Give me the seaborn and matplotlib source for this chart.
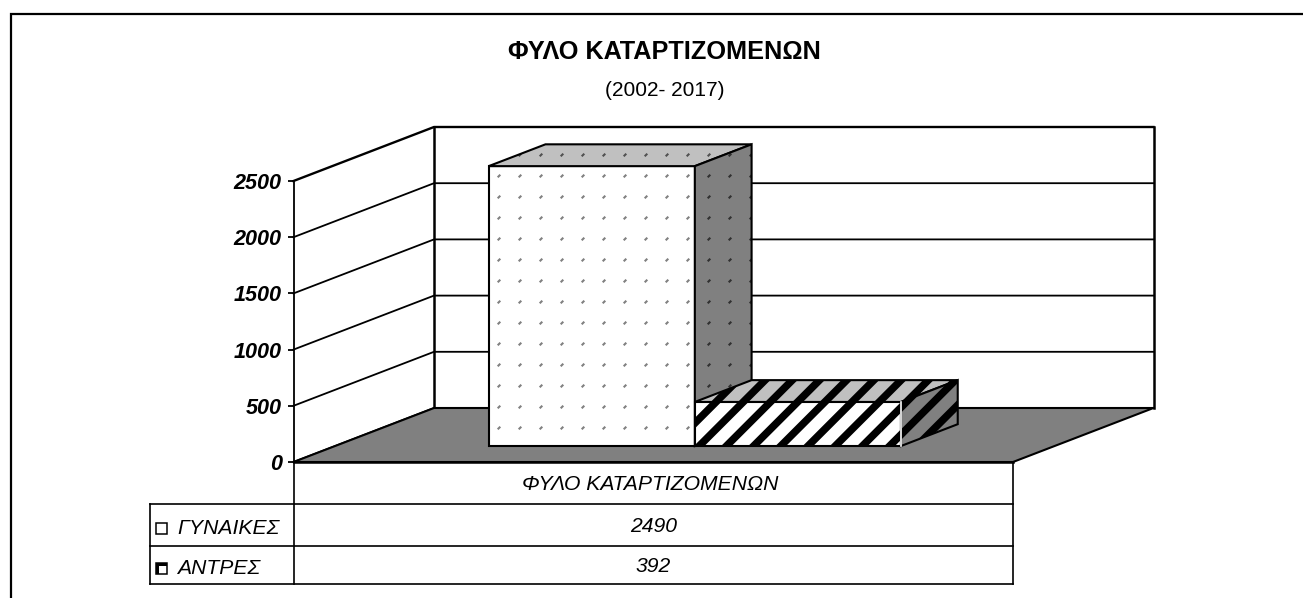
import numpy as np
import pandas as pd
import seaborn as sns
import matplotlib
matplotlib.use("Agg")
import matplotlib.pyplot as plt
from matplotlib.collections import LineCollection
from matplotlib.lines import Line2D
from matplotlib.patches import Polygon, Rectangle
from matplotlib.transforms import Affine2D, IdentityTransform

title = "ΦΥΛΟ ΚΑΤΑΡΤΙΖΟΜΕΝΩΝ"
subtitle = "(2002- 2017)"
category = ["ΦΥΛΟ ΚΑΤΑΡΤΙΖΟΜΕΝΩΝ"]
series_names = ["ΓΥΝΑΙΚΕΣ", "ΑΝΤΡΕΣ"]
series_values = [2490, 392]
y_ticks = [0, 500, 1000, 1500, 2000, 2500]

W, H = 1303, 598
sns.set_style("white")
plt.rcParams["font.family"] = ["Liberation Sans", "DejaVu Sans"]
fig = plt.figure(figsize=(W / 100, H / 100), dpi=100)

# plot plane in pixels
L, R, Y0, Y1 = 293.5, 1013.0, 462.0, 181.0
ax = fig.add_axes([L / W, 1 - Y0 / H, (R - L) / W, (Y0 - Y1) / H])
ax.patch.set_alpha(0)

df = pd.DataFrame({"cat": category * 2, "series": series_names, "value": series_values})
sns.barplot(data=df, x="cat", y="value", hue="series", hue_order=series_names,
            palette=["white", "white"], width=0.573, gap=0, legend=False, ax=ax,
            edgecolor="black", linewidth=1.1, saturation=1)
ax.set_xlim(-0.5, 0.5)
ax.set_ylim(0, 2500)
ax.set_xlabel("")
ax.set_ylabel("")
ax.set_xticks([])
ax.set_yticks(y_ticks)
ax.set_yticklabels([str(t) for t in y_ticks], fontsize=15.6, fontweight="bold", fontstyle="italic")
ax.tick_params(axis="y", left=True, length=4.5, width=1.3, pad=4, color="black", labelcolor="black")
sns.despine(ax=ax, top=True, right=True, bottom=True, left=False)
ax.spines["left"].set_linewidth(1.3)
ax.spines["left"].set_color("black")
ax.spines["left"].set_zorder(2)

# depth vector of the full floor, in display pixels
DX, DY = 140.5, 54.0
D_FRONT, D_BACK = 0.296, 0.70
px = IdentityTransform()


def proj(x, v, d=0.0):
    p = ax.transData.transform((x, v))
    return (p[0] + d * DX, p[1] + d * DY)


def line(pts, lw=1.3, z=1.0, color="black"):
    xs, ys = zip(*pts)
    ax.add_line(Line2D(xs, ys, transform=px, color=color, lw=lw, zorder=z, clip_on=False,
                       solid_capstyle="projecting"))


# floor
xa, xb = ax.get_xlim()
floor = [proj(xa, 0), proj(xb, 0), proj(xb, 0, 1), proj(xa, 0, 1)]
ax.add_patch(Polygon(floor, closed=True, transform=px, facecolor="#808080", edgecolor="black",
                     lw=1.5, zorder=1.2, clip_on=False))
# walls
for t in y_ticks:
    lw = 1.7 if t == y_ticks[-1] else 1.3
    line([proj(xa, t), proj(xa, t, 1), proj(xb, t, 1)], lw=lw, z=1.0)
line([proj(xa, 0, 1), proj(xa, y_ticks[-1], 1)], lw=1.8, z=1.1)
line([proj(xb, 0, 1), proj(xb, y_ticks[-1], 1)], lw=1.8, z=1.1)


def dots(color):
    xs = np.arange(499 - 21 * 2, 980, 21.0)
    ys = H - np.arange(155 - 21, 460, 21.0)
    segs = [[(x - 1.3, y - 1.3), (x + 1.3, y + 1.3)] for x in xs for y in ys]
    return LineCollection(segs, colors=color, linewidths=1.5, transform=px)


def stripes():
    segs = [[(x - 80, H - 403 - 80), (x + 80, H - 403 + 80)] for x in 715 + 27.2 * np.arange(-3, 12)]
    return LineCollection(segs, colors="black", linewidths=5.4, transform=px, capstyle="butt")


def add_face(verts, color, pattern, z):
    poly = Polygon(verts, closed=True, transform=px, facecolor=color, edgecolor="none", zorder=z, clip_on=False)
    ax.add_patch(poly)
    pattern.set_zorder(z + 0.1)
    ax.add_collection(pattern, autolim=False)
    pattern.set_clip_box(None)
    pattern.set_clip_path(poly)
    ax.add_patch(Polygon(verts, closed=True, transform=px, fill=False, edgecolor="black", lw=1.5,
                         zorder=z + 0.2, clip_on=False))


bars = sorted([b for b in ax.patches if isinstance(b, Rectangle)][:2], key=lambda b: b.get_x())
for i, bar in enumerate(bars):
    x0, x1 = bar.get_x(), bar.get_x() + bar.get_width()
    v = bar.get_height()
    z = 3 + i
    front = [proj(x0, 0, D_FRONT), proj(x1, 0, D_FRONT), proj(x1, v, D_FRONT), proj(x0, v, D_FRONT)]
    top = [proj(x0, v, D_FRONT), proj(x1, v, D_FRONT), proj(x1, v, D_BACK), proj(x0, v, D_BACK)]
    side = [proj(x1, 0, D_FRONT), proj(x1, 0, D_BACK), proj(x1, v, D_BACK), proj(x1, v, D_FRONT)]
    bar.set_transform(ax.transData + Affine2D().translate(D_FRONT * DX, D_FRONT * DY))
    bar.set_zorder(z)
    bar.set_clip_on(False)
    bar.set_linewidth(0)
    if i == 0:
        pats = [dots("#808080"), dots("#505050"), dots("#303030")]
    else:
        pats = [stripes(), stripes(), stripes()]
    add_face(front, "white", pats[0], z)
    add_face(top, "#c0c0c0", pats[1], z + 0.3)
    add_face(side, "#808080", pats[2], z + 0.6)
    if i == 1:
        line([front[1], front[2]], lw=1.2, z=z + 0.9, color="white")


def T(y):
    return H - y


# data table
ROW = [462.0, 504.0, 546.0, 584.0]
LEG = 149.5
CX = (L + R) / 2
for y in ROW[1:]:
    line([(LEG, T(y)), (R, T(y))], lw=1.2, z=2)
line([(LEG, T(ROW[1])), (LEG, T(ROW[3]))], lw=1.2, z=2)
line([(L, T(ROW[0])), (L, T(ROW[3]))], lw=1.2, z=2)
line([(R, T(ROW[0])), (R, T(ROW[3]))], lw=1.2, z=2)
line([(L, T(ROW[0])), (R, T(ROW[0]))], lw=1.8, z=2.5)

tkw = dict(transform=px, fontsize=15.2, fontstyle="italic", va="center", color="black", clip_on=False)
ax.text(CX - 3, T(484.5), category[0], ha="center", **tkw)
for y, name, val in zip([526.5, 566.5], series_names, series_values):
    ax.text(CX, T(y), str(val), ha="center", **tkw)
    ax.text(177, T(y + 2.5), name, ha="left", **tkw)
    ax.add_patch(Rectangle((156, T(y + 7.5)), 11, 11, transform=px, facecolor="white", edgecolor="black",
                           lw=1.1, clip_on=False, zorder=5))
ax.add_patch(Polygon([(156, T(563)), (167, T(563)), (167, T(565.5)), (159, T(565.5)), (159, T(574)), (156, T(574))],
                     closed=True, transform=px, facecolor="black", edgecolor="none", zorder=6, clip_on=False))

# titles
fig.text(664.5 / W, 1 - 52 / H, title, ha="center", va="center", fontsize=18.2, fontweight="bold", color="black")
fig.text(664.5 / W, 1 - 91 / H, subtitle, ha="center", va="center", fontsize=15, color="black")

# chart frame: only top and left fall inside the picture
fig.add_artist(Line2D([10.5, 10.5, W], [0, T(14), T(14)], transform=px, color="black", lw=1.6,
                      solid_joinstyle="miter"))

fig.savefig("out.png", dpi=100, facecolor="white")
